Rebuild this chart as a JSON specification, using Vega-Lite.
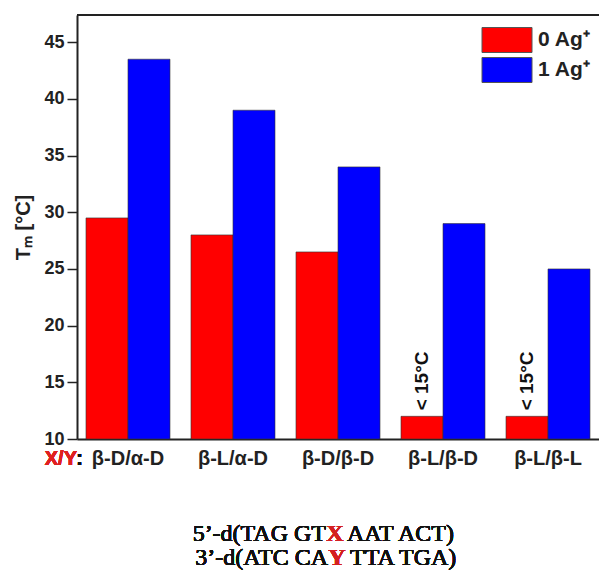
{
  "$schema": "https://vega.github.io/schema/vega-lite/v6.json",
  "width": 522,
  "height": 424,
  "autosize": {"type": "none"},
  "padding": {"left": 77, "top": 15, "right": 0, "bottom": 131},
  "background": "white",
  "config": {"view": {"stroke": null}, "font": "Liberation Sans"},
  "data": {"values": [
    {"pair": "β-D/α-D", "ag": "0 Ag⁺", "tm": 29.5, "note": ""},
    {"pair": "β-D/α-D", "ag": "1 Ag⁺", "tm": 43.5, "note": ""},
    {"pair": "β-L/α-D", "ag": "0 Ag⁺", "tm": 28.0, "note": ""},
    {"pair": "β-L/α-D", "ag": "1 Ag⁺", "tm": 39.0, "note": ""},
    {"pair": "β-D/β-D", "ag": "0 Ag⁺", "tm": 26.5, "note": ""},
    {"pair": "β-D/β-D", "ag": "1 Ag⁺", "tm": 34.0, "note": ""},
    {"pair": "β-L/β-D", "ag": "0 Ag⁺", "tm": 12.0, "note": "< 15°C"},
    {"pair": "β-L/β-D", "ag": "1 Ag⁺", "tm": 29.0, "note": ""},
    {"pair": "β-L/β-L", "ag": "0 Ag⁺", "tm": 12.0, "note": "< 15°C"},
    {"pair": "β-L/β-L", "ag": "1 Ag⁺", "tm": 25.0, "note": ""}
  ]},
  "layer": [
    {
      "mark": {"type": "bar", "stroke": "#333", "strokeWidth": 1, "strokeOpacity": 0.6},
      "encoding": {
        "x": {
          "field": "pair", "type": "nominal", "sort": null,
          "scale": {"paddingInner": 0.2, "paddingOuter": 0.0857},
          "axis": {"title": null, "labelAngle": 0, "labelFontSize": 20, "labelFontWeight": "bold", "labelColor": "#222", "ticks": false, "domainColor": "#222", "domainWidth": 2, "labelPadding": 9}
        },
        "xOffset": {"field": "ag", "type": "nominal", "sort": null, "scale": {"paddingInner": 0}},
        "y": {
          "field": "tm", "type": "quantitative",
          "scale": {"domain": [10, 47.4], "nice": false, "zero": false},
          "axis": {
            "values": [10, 12.5, 15, 17.5, 20, 22.5, 25, 27.5, 30, 32.5, 35, 37.5, 40, 42.5, 45, 47.5],
            "labelExpr": "datum.value % 5 === 0 ? datum.label : ''",
            "format": "d",
            "tickSize": {"condition": {"test": "datum.value % 5 === 0", "value": 10}, "value": 5},
            "tickColor": "#222", "tickWidth": 1.5,
            "domainColor": "#222", "domainWidth": 2,
            "labelFontSize": 18, "labelFontWeight": "bold", "labelColor": "#222", "labelPadding": 3,
            "grid": false,
            "title": "Tₘ [°C]", "titleFontSize": 20, "titleFontWeight": "bold", "titleColor": "#222", "titlePadding": 10
          }
        },
        "y2": {"datum": 10},
        "color": {
          "field": "ag", "type": "nominal", "sort": null,
          "scale": {"domain": ["0 Ag⁺", "1 Ag⁺"], "range": ["#ff0000", "#0000ff"]},
          "legend": {
            "title": null, "orient": "none", "legendX": 417, "legendY": 12,
            "symbolType": "M-2,-1H2V1H-2Z", "symbolSize": 625,
            "symbolStrokeColor": "#555", "symbolStrokeWidth": 1, "symbolOpacity": 1,
            "labelFontSize": 21, "labelFontWeight": "bold", "labelColor": "#222",
            "labelOffset": 18, "rowPadding": 0
          }
        }
      }
    },
    {
      "mark": {"type": "text", "angle": -90, "align": "left", "baseline": "middle", "dx": 6, "fontWeight": "bold", "fontSize": 19, "color": "#111"},
      "encoding": {
        "x": {"field": "pair", "type": "nominal", "sort": null},
        "xOffset": {"field": "ag", "type": "nominal", "sort": null},
        "y": {"field": "tm", "type": "quantitative"},
        "text": {"field": "note"}
      }
    },
    {
      "mark": {"type": "rule", "strokeWidth": 2, "color": "#222"},
      "encoding": {"y": {"datum": 47.4}}
    },
    {
      "mark": {"type": "text", "align": "right", "baseline": "middle", "dx": -51, "fontWeight": "bold", "fontSize": 20, "color": "#e02020"},
      "encoding": {"x": {"datum": "β-D/α-D", "type": "nominal"}, "y": {"datum": 8.2}, "text": {"value": "X/Y"}}
    },
    {
      "mark": {"type": "text", "align": "right", "baseline": "middle", "dx": -45, "fontWeight": "bold", "fontSize": 20, "color": "#111"},
      "encoding": {"x": {"datum": "β-D/α-D", "type": "nominal"}, "y": {"datum": 8.2}, "text": {"value": ":"}}
    },
    {
      "mark": {"type": "text", "align": "right", "baseline": "alphabetic", "dx": -12, "font": "Liberation Serif", "fontSize": 24, "color": "#111"},
      "encoding": {"x": {"datum": "β-D/β-D", "type": "nominal"}, "y": {"datum": 1.0}, "text": {"value": "5’-d(TAG GT"}}
    },
    {
      "mark": {"type": "text", "align": "center", "baseline": "alphabetic", "dx": -3, "font": "Liberation Serif", "fontSize": 24, "fontWeight": "bold", "color": "#d42020"},
      "encoding": {"x": {"datum": "β-D/β-D", "type": "nominal"}, "y": {"datum": 1.0}, "text": {"value": "X"}}
    },
    {
      "mark": {"type": "text", "align": "left", "baseline": "alphabetic", "dx": 9, "font": "Liberation Serif", "fontSize": 24, "color": "#111"},
      "encoding": {"x": {"datum": "β-D/β-D", "type": "nominal"}, "y": {"datum": 1.0}, "text": {"value": "AAT ACT)"}}
    },
    {
      "mark": {"type": "text", "align": "right", "baseline": "alphabetic", "dx": -10, "font": "Liberation Serif", "fontSize": 24, "color": "#111"},
      "encoding": {"x": {"datum": "β-D/β-D", "type": "nominal"}, "y": {"datum": -1.1}, "text": {"value": "3’-d(ATC CA"}}
    },
    {
      "mark": {"type": "text", "align": "center", "baseline": "alphabetic", "dx": -1, "font": "Liberation Serif", "fontSize": 24, "fontWeight": "bold", "color": "#d42020"},
      "encoding": {"x": {"datum": "β-D/β-D", "type": "nominal"}, "y": {"datum": -1.1}, "text": {"value": "Y"}}
    },
    {
      "mark": {"type": "text", "align": "left", "baseline": "alphabetic", "dx": 12, "font": "Liberation Serif", "fontSize": 24, "color": "#111"},
      "encoding": {"x": {"datum": "β-D/β-D", "type": "nominal"}, "y": {"datum": -1.1}, "text": {"value": "TTA TGA)"}}
    }
  ]
}
